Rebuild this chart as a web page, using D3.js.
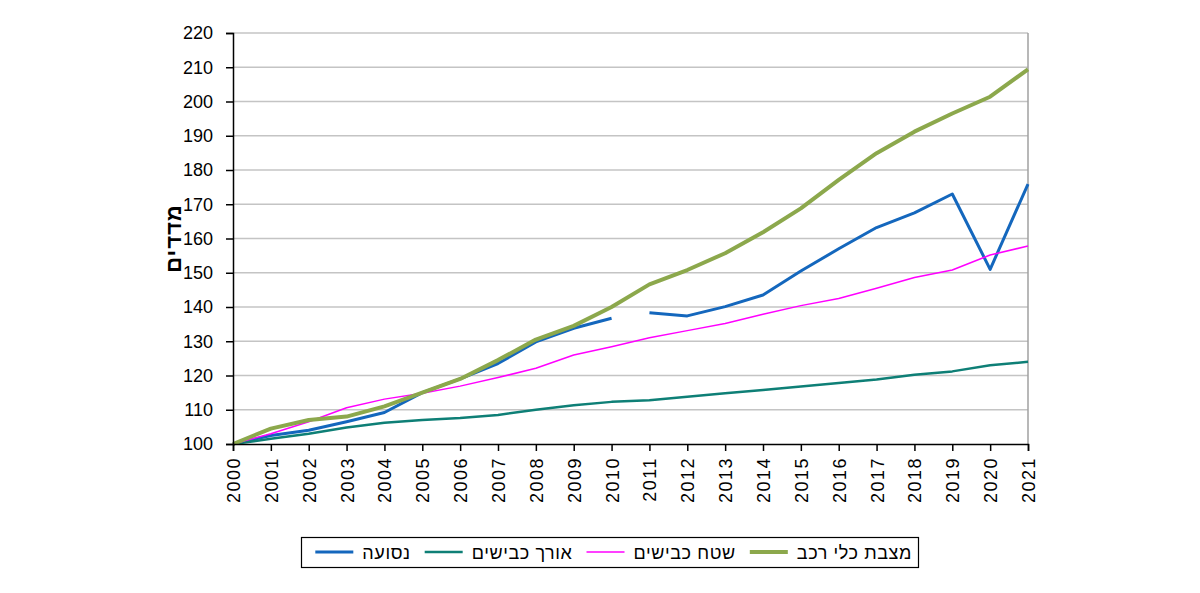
<!DOCTYPE html>
<html>
<head>
<meta charset="utf-8">
<script src="https://cdn.jsdelivr.net/npm/d3@7"></script>
<style>
  body { margin: 0; background: #fff; }
  svg { display: block; font-family: Arial, "Liberation Sans", "DejaVu Sans", sans-serif; }
</style>
</head>
<body>
<div class="svg-container"></div>
<script>
// data
const years = d3.range(2000, 2022);
const travel = [100, 102.5, 104, 106.5, 109.2, 115, 119, 123.5, 129.8, 133.8, 136.7,
  138.3, 137.4, 140.1, 143.5, 150.5, 157, 163.2, 167.5, 173, 151, 175.9];
const roadLength = [100, 101.5, 103, 104.8, 106.2, 107, 107.6, 108.5, 110, 111.3, 112.3,
  112.8, 113.8, 114.8, 115.8, 116.8, 117.8, 118.8, 120.2, 121.2, 123, 124];
const roadArea = [100, 103, 106.5, 110.6, 113.1, 114.8, 116.9, 119.4, 122.1, 126, 128.4,
  131, 133.1, 135.2, 137.9, 140.4, 142.5, 145.5, 148.6, 150.8, 155.2, 157.8];
const vehicles = [100, 104.5, 107, 108, 111, 115, 119, 124.5, 130.5, 134.5, 140,
  146.6, 150.8, 155.7, 161.8, 168.8, 177.1, 184.9, 191.2, 196.5, 201.4, 209.4];
const yTicks = d3.range(100, 221, 10);
const travelBreak = 2010; // series is not joined between 2010 and 2011

const series = [
  { name: "נסועה", values: travel, color: "#1467bd", width: 3 },
  { name: "אורך כבישים", values: roadLength, color: "#0e7f76", width: 2.5 },
  { name: "שטח כבישים", values: roadArea, color: "#ff00ff", width: 1.5 },
  { name: "מצבת כלי רכב", values: vehicles, color: "#8ca84c", width: 4 }
];

const W = 1200, H = 593;
const margin = { top: 33, left: 233, right: 172, bottom: 149 };

const svg = d3.select("div.svg-container")
  .append("svg")
  .attr("width", W)
  .attr("height", H);

const x = d3.scaleLinear().domain([2000, 2021]).range([margin.left, W - margin.right]);
const y = d3.scaleLinear().domain([100, 220]).range([H - margin.bottom, margin.top]);

// gridlines
svg.append("g")
  .selectAll("line")
  .data(yTicks.slice(1))
  .join("line")
  .attr("x1", x(2000)).attr("x2", x(2021))
  .attr("y1", d => y(d)).attr("y2", d => y(d))
  .attr("stroke", "#c4c4c4")
  .attr("stroke-width", 1.5);

svg.append("line")
  .attr("x1", x(2021)).attr("x2", x(2021))
  .attr("y1", y(220)).attr("y2", y(100))
  .attr("stroke", "#a0a0a0")
  .attr("stroke-width", 1.5);

// lines
const line = d3.line()
  .x(d => x(d[0]))
  .y(d => y(d[1]));

series.forEach(s => {
  const pts = years.map((yr, i) => [yr, s.values[i]]);
  const parts = s.name === "נסועה"
    ? [pts.filter(p => p[0] <= travelBreak), pts.filter(p => p[0] > travelBreak)]
    : [pts];
  svg.append("g")
    .selectAll("path")
    .data(parts)
    .join("path")
    .attr("fill", "none")
    .attr("stroke", s.color)
    .attr("stroke-width", s.width)
    .attr("stroke-linejoin", "round")
    .attr("d", line);
});

// axes
const yAxis = svg.append("g")
  .attr("transform", `translate(${margin.left},0)`)
  .call(d3.axisLeft(y).tickValues(yTicks).tickSize(7).tickPadding(13));
yAxis.select(".domain").attr("stroke", "#000").attr("stroke-width", 1.5);
yAxis.selectAll(".tick line").attr("stroke", "#000").attr("stroke-width", 1.5);
yAxis.selectAll("text")
  .attr("font-size", 18)
  .attr("font-family", "Arial, 'Liberation Sans', sans-serif")
  .attr("fill", "#000");

const xAxis = svg.append("g")
  .attr("transform", `translate(0,${y(100)})`)
  .call(d3.axisBottom(x).tickValues(years).tickFormat(d3.format("d")).tickSize(7));
xAxis.select(".domain").attr("stroke", "#000").attr("stroke-width", 1.5);
xAxis.selectAll(".tick line").attr("stroke", "#000").attr("stroke-width", 1.5);
xAxis.selectAll("text")
  .attr("font-size", 18)
  .attr("font-family", "Arial, 'Liberation Sans', sans-serif")
  .attr("letter-spacing", 1.5)
  .attr("fill", "#000")
  .attr("text-anchor", "end")
  .attr("transform", "rotate(-90)")
  .attr("x", -13)
  .attr("y", 0)
  .attr("dy", "0.36em");

// y title
svg.append("text")
  .attr("transform", `translate(181,${(y(100) + y(220)) / 2}) rotate(-90)`)
  .attr("text-anchor", "middle")
  .attr("font-size", 22)
  .attr("font-weight", "bold")
  .attr("letter-spacing", 1)
  .attr("fill", "#000")
  .text("מדדים");

// legend, laid out right to left
const legend = svg.append("g");
legend.append("rect")
  .attr("x", 301.5).attr("y", 537.5)
  .attr("width", 617).attr("height", 30)
  .attr("fill", "#fff")
  .attr("stroke", "#000")
  .attr("stroke-width", 1.2);

let cur = 912;
series.slice().reverse().forEach(s => {
  const t = legend.append("text")
    .attr("y", 553)
    .attr("dy", "0.35em")
    .attr("font-size", 18)
    .attr("letter-spacing", 0.6)
    .attr("fill", "#000")
    .text(s.name);
  const w = t.node().getComputedTextLength();
  t.attr("x", cur - w);
  const lx2 = cur - w - 9, lx1 = lx2 - 38;
  legend.append("line")
    .attr("x1", lx1).attr("x2", lx2)
    .attr("y1", 552).attr("y2", 552)
    .attr("stroke", s.color)
    .attr("stroke-width", s.width);
  cur = lx1 - 14;
});
</script>
</body>
</html>
